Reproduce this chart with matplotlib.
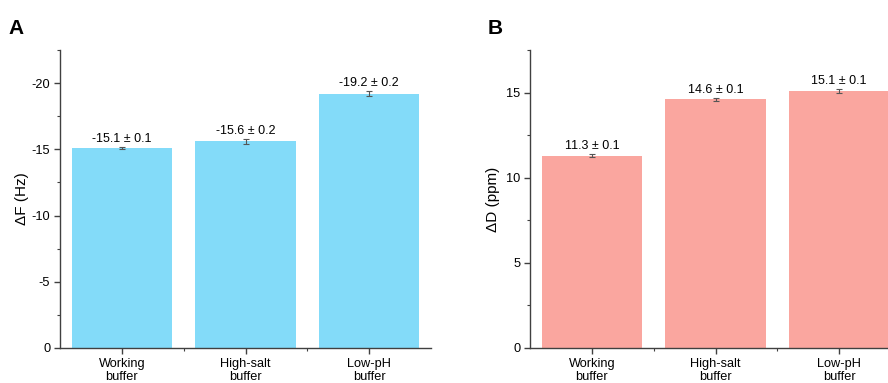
import matplotlib.pyplot as plt
from matplotlib.ticker import MultipleLocator, FixedLocator

plt.rcParams['font.family'] = ['Liberation Sans', 'DejaVu Sans']
plt.rcParams['axes.unicode_minus'] = False

categories = ["Working\nbuffer", "High-salt\nbuffer", "Low-pH\nbuffer"]
df_values = [-15.1, -15.6, -19.2]
df_errors = [0.1, 0.2, 0.2]
dd_values = [11.3, 14.6, 15.1]
dd_errors = [0.1, 0.1, 0.1]

blue = "#83dbf9"
pink = "#faa69f"
axis_color = "#404040"


def style_axes(ax, ylim, minor):
    x = [1, 2, 3]
    ax.set_xlim(0.5, 3.5)
    ax.set_ylim(*ylim)
    ax.set_xticks(x)
    ax.set_xticklabels(categories, fontsize=9.2, linespacing=1.1)
    ax.xaxis.set_minor_locator(FixedLocator([1.5, 2.5]))
    ax.yaxis.set_major_locator(MultipleLocator(5))
    ax.yaxis.set_minor_locator(MultipleLocator(minor))
    for side in ("top", "right"):
        ax.spines[side].set_visible(False)
    for side in ("left", "bottom"):
        ax.spines[side].set_color(axis_color)
        ax.spines[side].set_linewidth(1.0)
    ax.tick_params(which="major", length=4, width=1, color=axis_color,
                   labelsize=9.2, pad=3)
    ax.tick_params(which="minor", length=2.5, width=0.8, color=axis_color)


def draw_bars(ax, values, errors, color, sign):
    x = [1, 2, 3]
    ax.bar(x, values, width=0.81, color=color, zorder=2)
    ax.errorbar(x, values, yerr=errors, fmt="none", ecolor="#555555",
                elinewidth=0.8, capsize=2.5, capthick=0.8, zorder=3)
    for xi, v, e in zip(x, values, errors):
        ax.annotate(f"{v:.1f} ± {e:.1f}", (xi, v + sign * e),
                    xytext=(0, 1.5), textcoords="offset points",
                    ha="center", va="bottom", fontsize=9)


fig = plt.figure(figsize=(8.88, 3.83), dpi=100)

ax1 = fig.add_axes([60 / 888, 1 - 348 / 383, 371 / 888, 298 / 383])
draw_bars(ax1, df_values, df_errors, blue, -1)
style_axes(ax1, (0, -22.5), 2.5)
ax1.set_ylabel("ΔF (Hz)", fontsize=11, labelpad=2)

ax2 = fig.add_axes([530 / 888, 1 - 348 / 383, 371 / 888, 298 / 383])
draw_bars(ax2, dd_values, dd_errors, pink, 1)
style_axes(ax2, (0, 17.5), 2.5)
ax2.set_ylabel("ΔD (ppm)", fontsize=11, labelpad=4)

fig.text(8 / 888, 1 - 28 / 383, "A", fontsize=15, fontweight="bold", va="center")
fig.text(488 / 888, 1 - 28 / 383, "B", fontsize=15, fontweight="bold", va="center")

fig.savefig("out.png", dpi=100)
